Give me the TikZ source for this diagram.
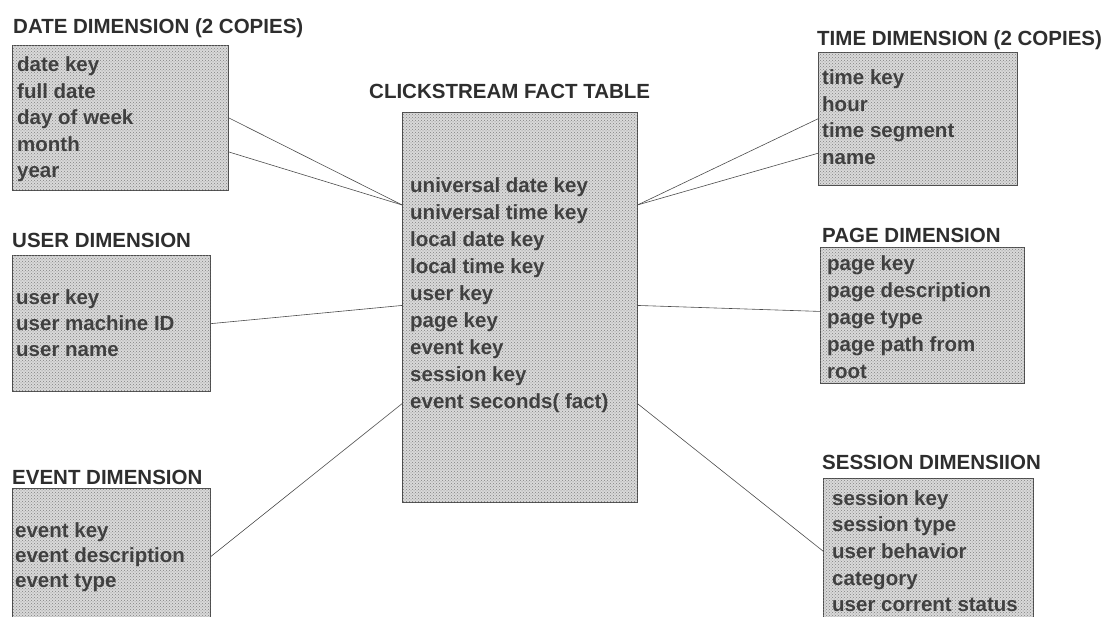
\documentclass[tikz,border=0pt]{standalone}
\usepackage{fontspec}
\setmainfont{Liberation Sans}
\usetikzlibrary{positioning,patterns}

\begin{document}
\begin{tikzpicture}[
    x=1pt, y=1pt,
    font=\fontsize{20.5}{24}\selectfont\bfseries,
    table/.style={draw=black!70, line width=0.6pt, fill=black!15, postaction={pattern=crosshatch dots, pattern color=black!50}, anchor=north west, inner sep=0pt},
    title/.style={text=black!82, inner sep=0pt, anchor=base west},
    row/.style={text=black!75, inner sep=0pt, anchor=base west},
    link/.style={draw=black!70, line width=0.6pt}
]
\useasboundingbox (0,0) rectangle (1109,-617);

% Date dimension (top left)
\node[table, minimum width=216pt, minimum height=145pt] (date) at (12,-45) {};
\node[above=11pt of date.north west, title, xshift=1pt] (datetitle) {DATE DIMENSION (2 COPIES)};
\foreach \t [count=\i] in {date key, full date, day of week, month, year}
  \node[row] (d\i) at ([shift={(5,{-27-26.5*(\i-1)})}]date.north west) {\t};

% User dimension (middle left)
\node[table, minimum width=198pt, minimum height=136pt] (user) at (12,-255) {};
\node[above=7pt of user.north west, title] (usertitle) {USER DIMENSION};
\foreach \t [count=\i] in {user key, user machine ID, user name}
  \node[row] (u\i) at ([shift={(4,{-50-26*(\i-1)})}]user.north west) {\t};

% Event dimension (bottom left)
\node[table, minimum width=198pt, minimum height=134pt] (event) at (12,-488) {};
\node[above=3pt of event.north west, title] (eventtitle) {EVENT DIMENSION};
\foreach \t [count=\i] in {event key, event description, event type}
  \node[row] (e\i) at ([shift={(3,{-49-25*(\i-1)})}]event.north west) {\t};

% Clickstream fact table (centre)
\node[table, minimum width=235pt, minimum height=390pt] (fact) at (402,-112) {};
\node[above=13pt of fact.north west, title, xshift=-33pt] (facttitle) {CLICKSTREAM FACT TABLE};
\foreach \t [count=\i] in {universal date key, universal time key, local date key, local time key, user key, page key, event key, session key, event seconds( fact)}
  \node[row] (f\i) at ([shift={(8,{-81-27*(\i-1)})}]fact.north west) {\t};

% Time dimension (top right)
\node[table, minimum width=199pt, minimum height=133pt] (time) at (818,-52) {};
\node[above=6pt of time.north west, title, xshift=-1pt] (timetitle) {TIME DIMENSION (2 COPIES)};
\foreach \t [count=\i] in {time key, hour, time segment, name}
  \node[row] (t\i) at ([shift={(4,{-33-26.5*(\i-1)})}]time.north west) {\t};

% Page dimension (middle right)
\node[table, minimum width=204pt, minimum height=136pt] (page) at (820,-247) {};
\node[above=4pt of page.north west, title, xshift=2pt] (pagetitle) {PAGE DIMENSION};
\foreach \t [count=\i] in {page key, page description, page type, page path from, root}
  \node[row] (p\i) at ([shift={(7,{-24-27*(\i-1)})}]page.north west) {\t};

% Session dimension (bottom right)
\node[table, minimum width=210pt, minimum height=144pt] (session) at (823,-478) {};
\node[above=8pt of session.north west, title, xshift=-1pt] (sessiontitle) {SESSION DIMENSIION};
\foreach \t [count=\i] in {session key, session type, user behavior, category, user corrent status}
  \node[row] (s\i) at ([shift={(9,{-27-26.7*(\i-1)})}]session.north west) {\t};

% links to the fact table
\draw[link] (date.east) -- (fact.west |- f2.north);
\draw[link] (date.east |- d4.south) -- (fact.west |- f2.north);
\draw[link] (time.west) -- (fact.east |- f2.north);
\draw[link] (time.west |- t4.north) -- (fact.east |- f2.north);
\draw[link] (user.east |- u2) -- (fact.west |- f5.south);
\draw[link] (fact.east |- f5.south) -- (page.west |- p3.north);
\draw[link] (event.east |- e2) -- (fact.west |- f9);
\draw[link] (fact.east |- f9) -- (session.west |- s3);

\end{tikzpicture}
\end{document}
